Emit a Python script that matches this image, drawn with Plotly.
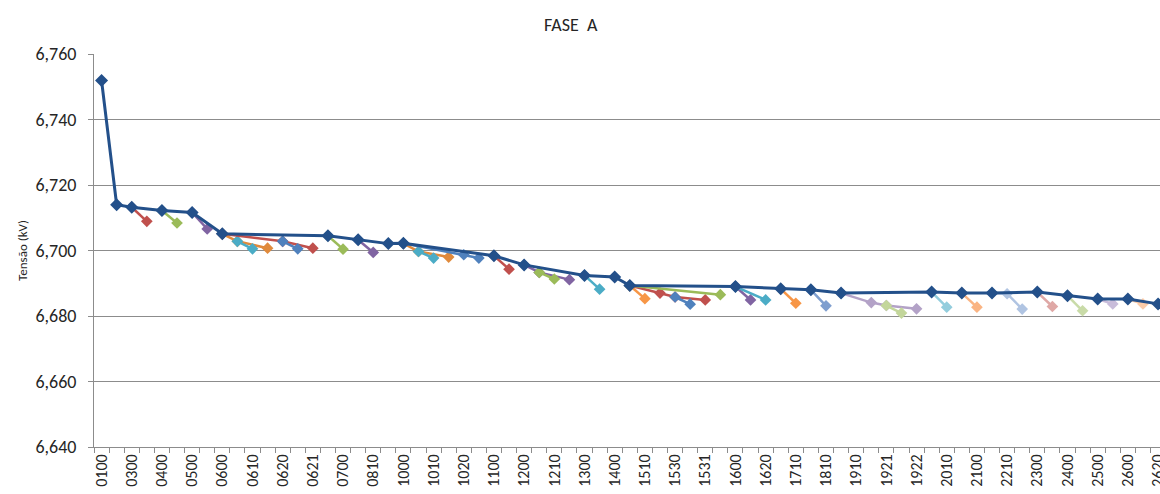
import plotly.graph_objects as go

# ---------------- data ----------------
categories = ["0100","0200","0300","0310","0400","0410","0500","0510","0600","0601",
              "0610","0611","0620","0622","0621","0630","0700","0800","0810","0900",
              "1000","1001","1010","1011","1020","1021","1100","1110","1200","1201",
              "1210","1211","1300","1310","1400","1500","1510","1520","1530","1532",
              "1531","1540","1600","1610","1620","1700","1710","1800","1810","1900",
              "1910","1920","1921","1923","1922","2000","2010","2020","2100","2200",
              "2210","2220","2300","2310","2400","2410","2500","2510","2600","2610",
              "2620"]
# labels shown on axis (every other category)
tick_labels = [c if i % 2 == 0 else "" for i, c in enumerate(categories)]

main_x = ["0100","0200","0300","0400","0500","0600","0630","0800","0900","1000",
          "1100","1200","1300","1400","1500","1600","1700","1800","1900","2000",
          "2020","2200","2300","2400","2500","2600","2620"]
main_y = [6.7519, 6.7140, 6.7132, 6.7122, 6.7116, 6.7051, 6.7045, 6.7033, 6.7021, 6.7022,
          6.6984, 6.6956, 6.6924, 6.6919, 6.6893, 6.6890, 6.6883, 6.6880, 6.6870, 6.6873,
          6.6870, 6.6870, 6.6873, 6.6862, 6.6852, 6.6852, 6.6837]

branch_x = [
    ["0300","0310"], ["0400","0410"], ["0500","0510"],
    ["0600","0601","0611"], ["0601","0610"],
    ["0600","0620","0621"], ["0620","0622"],
    ["0630","0700"], ["0800","0810"],
    ["1000","1001","1011"], ["1001","1010"],
    ["1000","1020","1021"],
    ["1100","1110"],
    ["1200","1201","1211"], ["1201","1210"],
    ["1300","1310"],
    ["1500","1510"],
    ["1500","1520","1530","1531"], ["1530","1532"],
    ["1500","1540"],
    ["1600","1610"], ["1600","1620"],
    ["1700","1710"], ["1800","1810"],
    ["1900","1920","1921","1922"], ["1921","1923"],
    ["2000","2010"], ["2020","2100"],
    ["2200","2210","2220"],
    ["2300","2310"], ["2400","2410"], ["2500","2510"], ["2600","2610"],
]
branch_y = [
    [6.7132, 6.7089], [6.7122, 6.7084], [6.7116, 6.7066],
    [6.7051, 6.7028, 6.7007], [6.7028, 6.7005],
    [6.7051, 6.7028, 6.7007], [6.7028, 6.7005],
    [6.7045, 6.7004], [6.7033, 6.6994],
    [6.7022, 6.6997, 6.6980], [6.6997, 6.6977],
    [6.7022, 6.6987, 6.6977],
    [6.6984, 6.6943],
    [6.6956, 6.6933, 6.6911], [6.6933, 6.6913],
    [6.6924, 6.6882],
    [6.6893, 6.6853],
    [6.6893, 6.6870, 6.6858, 6.6849], [6.6858, 6.6836],
    [6.6893, 6.6865],
    [6.6890, 6.6849], [6.6890, 6.6849],
    [6.6883, 6.6839], [6.6880, 6.6831],
    [6.6870, 6.6841, 6.6832, 6.6822], [6.6832, 6.6809],
    [6.6873, 6.6827], [6.6870, 6.6827],
    [6.6870, 6.6868, 6.6821],
    [6.6873, 6.6829], [6.6862, 6.6816], [6.6852, 6.6837], [6.6852, 6.6837],
]
branch_colors = [
    "#C0504D", "#9BBB59", "#8064A2",
    "#E08A3C", "#4BACC6",
    "#C0504D", "#4F81BD",
    "#9BBB59", "#8064A2",
    "#E08A3C", "#4BACC6",
    "#4F81BD",
    "#C0504D",
    "#8064A2", "#9BBB59",
    "#4BACC6",
    "#F79646",
    "#C0504D", "#4F81BD",
    "#9BBB59",
    "#8064A2", "#4BACC6",
    "#F79646", "#7F9FCF",
    "#B3A2C7", "#C3D69B",
    "#93CDDD", "#FAB483",
    "#B0C4E2",
    "#DFA8A6", "#C9DBA8", "#C8BCDA", "#FCCBA8",
]
main_color = "#23508A"

FONT = "Calibri, Carlito, 'Open Sans', sans-serif"
TXT = "#262626"
GRID = "#8C8C8C"

fig = go.Figure()
for bx, by, bc in zip(branch_x, branch_y, branch_colors):
    fig.add_trace(go.Scatter(
        x=bx, y=by, mode="lines+markers",
        line=dict(color=bc, width=2.5),
        marker=dict(symbol="diamond", size=9, color=bc),
        showlegend=False, hoverinfo="x+y"))

fig.add_trace(go.Scatter(
    x=main_x, y=main_y, mode="lines+markers",
    line=dict(color=main_color, width=3),
    marker=dict(symbol="diamond", size=10, color=main_color),
    showlegend=False, hoverinfo="x+y"))

fig.update_layout(
    width=1160, height=494,
    margin=dict(l=94, r=0, t=54, b=47, pad=0),
    paper_bgcolor="white", plot_bgcolor="white",
    separators=",.",
    font=dict(family=FONT, color=TXT, size=15),
    title=dict(text="FASE  A", x=0.492, xref="container", xanchor="center",
               y=1 - 25 / 494, yref="container", yanchor="middle",
               font=dict(family=FONT, size=18, color=TXT)),
    xaxis=dict(
        type="category", categoryorder="array", categoryarray=categories,
        range=[-0.5, 70.13],
        tickmode="array", tickvals=categories, ticktext=tick_labels,
        tickson="boundaries", ticks="outside", ticklen=5, tickcolor=GRID,
        tickangle=-90, tickfont=dict(size=16, color=TXT),
        showgrid=False, showline=True, linecolor=GRID, linewidth=1,
        zeroline=False, automargin=False, fixedrange=True),
    yaxis=dict(
        range=[6.640, 6.760], dtick=0.02, tick0=6.64, tickformat=".3f",
        ticks="outside", ticklen=5, tickcolor=GRID,
        tickfont=dict(size=18, color=TXT), ticklabelstandoff=8,
        showgrid=True, gridcolor=GRID, gridwidth=1,
        showline=True, linecolor=GRID, linewidth=1,
        zeroline=False, automargin=False,
        title=dict(text="Tensão (kV)", font=dict(size=13, color=TXT), standoff=4)),
)

fig.write_html("out.html")
